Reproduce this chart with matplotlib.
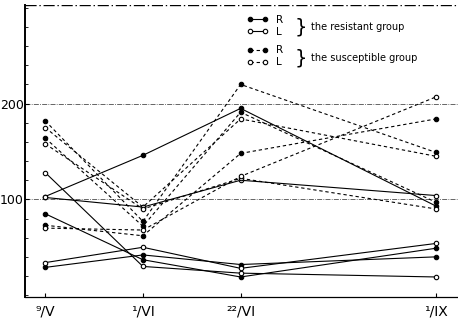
import matplotlib
matplotlib.use('Agg')
import matplotlib.pyplot as plt
from matplotlib.ticker import MultipleLocator

plt.rcParams['font.family'] = ['DejaVu Sans']

# sampling dates (x spacing as drawn in the original)
dates = ['⁹/V', '¹/VI', '²²/VI', '¹/IX']
xPos = [0, 1, 2, 4]

# resistant group, right (R) and left (L)
resistantR = [[103, 146, 195, 93],
              [85, 37, 19, 49],
              [29, 42, 32, 40]]
resistantL = [[102, 92, 120, 104],
              [128, 30, 23, 19],
              [34, 50, 28, 54]]
# susceptible group
susceptibleR = [[182, 77, 220, 149],
                [164, 72, 191, 97],
                [73, 62, 148, 184]]
susceptibleL = [[175, 92, 184, 145],
                [158, 90, 122, 90],
                [70, 68, 124, 207]]

fig = plt.figure(figsize=(4.58, 3.29), dpi=100)
ax = fig.add_axes([0.055, 0.097, 0.945, 0.888])

def drawGroup(series, filled, dashed):
    handle = None
    for values in series:
        line, = ax.plot(xPos, values, color='black', lw=0.8,
                        linestyle=(0, (3, 2.5)) if dashed else '-',
                        marker='o', ms=3.2, mew=0.8,
                        mfc='black' if filled else 'white', mec='black')
        handle = handle or line
    return handle

hRR = drawGroup(resistantR, True, False)
hRL = drawGroup(resistantL, False, False)
hSR = drawGroup(susceptibleR, True, True)
hSL = drawGroup(susceptibleL, False, True)

ax.set_xlim(-0.205, 4.225)
ax.set_ylim(-2, 303)

for yv in [100, 200]:
    ax.axhline(yv, color='black', lw=0.6, linestyle=(0, (6, 1.5, 1, 1.5)), alpha=0.7)
ax.axhline(303, color='black', lw=1.0, linestyle=(0, (8, 2, 1, 2)))

ax.spines['top'].set_visible(False)
ax.spines['right'].set_visible(False)
ax.spines['left'].set_linewidth(1.4)
ax.spines['bottom'].set_linewidth(0.9)

ax.set_yticks([100, 200])
ax.set_yticklabels(['100', '200'], fontsize=9)
ax.yaxis.set_minor_locator(MultipleLocator(20))
ax.tick_params(axis='y', which='major', direction='in', length=3, pad=1)
ax.tick_params(axis='y', which='minor', direction='in', length=2)
ax.set_xticks(xPos)
ax.set_xticklabels(dates, fontsize=10)
ax.tick_params(axis='x', direction='in', length=3, pad=5)

leg1 = ax.legend([hRR, hRL], ['R', 'L'], loc='upper left', bbox_to_anchor=(0.5, 0.985),
                 frameon=False, numpoints=2, handlelength=2.0, fontsize=7.5,
                 borderpad=0, labelspacing=0.2, handletextpad=0.8)
ax.add_artist(leg1)
ax.legend([hSR, hSL], ['R', 'L'], loc='upper left', bbox_to_anchor=(0.5, 0.88),
          frameon=False, numpoints=2, handlelength=2.0, fontsize=7.5,
          borderpad=0, labelspacing=0.2, handletextpad=0.8)

ax.text(0.622, 0.925, '}', transform=ax.transAxes, fontsize=14, va='center')
ax.text(0.66, 0.925, 'the resistant group', transform=ax.transAxes, fontsize=7, va='center')
ax.text(0.622, 0.82, '}', transform=ax.transAxes, fontsize=14, va='center')
ax.text(0.66, 0.82, 'the susceptible group', transform=ax.transAxes, fontsize=7, va='center')

plt.savefig('out.png', dpi=100)
